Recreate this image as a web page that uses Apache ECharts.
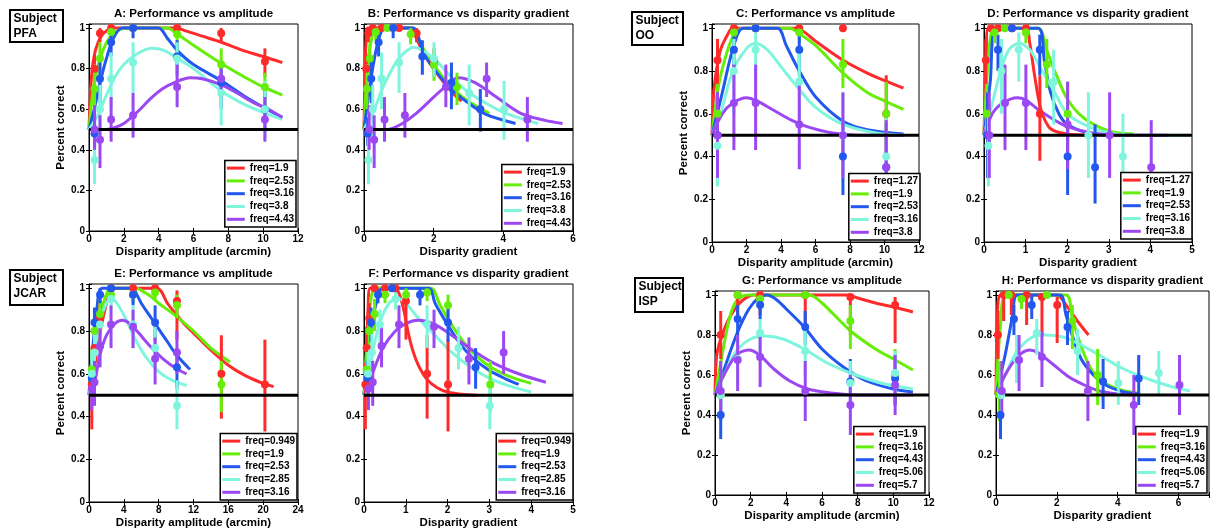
<!DOCTYPE html>
<html>
<head>
<meta charset="utf-8">
<script src="https://cdn.jsdelivr.net/npm/echarts@6/dist/echarts.min.js"></script>
<style>
html,body{margin:0;padding:0;background:#fff;}
#chart{width:1217px;height:531px;}
</style>
</head>
<body>
<div id="chart"></div>
<script>
// ---------------- DATA ----------------
const CHANCE = 0.5;

// Subject PFA (panels A, B)
const PFA_freq = ['freq=1.9','freq=2.53','freq=3.16','freq=3.8','freq=4.43'];
const PFA_amp = [0.32,0.63,1.27,2.53,5.06,7.59,10.1];
const PFA_grad = [
  [0.064,0.125,0.253,0.503,1.007,1.51,2.01],
  [0.085,0.167,0.336,0.670,1.34,2.01,2.67],
  [0.106,0.209,0.420,0.837,1.675,2.51,3.34],
  [0.127,0.251,0.505,1.007,2.01,3.02,4.02],
  [0.148,0.292,0.589,1.174,2.35,3.52,4.69]];
const PFA_pc = [
  [0.80,0.975,1,1,1,0.975,0.835],
  [0.70,0.85,0.98,1,0.97,0.82,0.71],
  [0.48,0.75,0.93,1,0.86,0.73,0.60],
  [0.35,0.60,0.75,0.83,0.85,0.68,0.60],
  [0.50,0.45,0.55,0.57,0.71,0.75,0.55]];
const PFA_lo = [
  [0.72,0.93,1,1,1,0.93,0.76],
  [0.60,0.75,0.94,1,0.92,0.74,0.62],
  [0.42,0.63,0.86,0.95,0.77,0.60,0.49],
  [0.23,0.46,0.60,0.68,0.76,0.52,0.45],
  [0.40,0.31,0.44,0.46,0.61,0.66,0.44]];
const PFA_hi = [
  [0.87,1,1,1,1,1,0.90],
  [0.82,0.93,1,1,1,0.90,0.78],
  [0.56,0.85,0.98,1,0.94,0.83,0.70],
  [0.50,0.72,0.88,0.93,0.93,0.82,0.74],
  [0.62,0.57,0.66,0.68,0.82,0.83,0.66]];
const A_fit = [
  [[0,0.5],[0.05,0.62],[0.1,0.71],[0.2,0.81],[0.4,0.9],[0.7,0.96],[1.0,0.985],[1.4,1],[3,1],[5.0,1],[5.6,0.985],[6.5,0.96],[7.6,0.93],[9,0.885],[10,0.86],[11.1,0.83]],
  [[0,0.5],[0.2,0.67],[0.4,0.77],[0.8,0.89],[1.2,0.955],[1.7,0.99],[2.2,1],[3.5,1],[4.5,1],[5,0.975],[6,0.915],[7.6,0.825],[9,0.755],[10,0.71],[11.1,0.67]],
  [[0,0.5],[0.3,0.6],[0.63,0.73],[1,0.85],[1.4,0.95],[1.9,1],[3,1],[4,1],[4.5,0.95],[5.06,0.89],[6,0.82],[7.6,0.74],[9,0.66],[10,0.61],[11.1,0.56]],
  [[0,0.5],[0.5,0.57],[1,0.67],[1.5,0.76],[2,0.82],[2.7,0.87],[3.6,0.9],[4.3,0.89],[5,0.855],[6,0.8],[7.6,0.69],[9,0.62],[10,0.585],[11.1,0.55]],
  [[0,0.5],[1,0.5],[1.5,0.51],[2,0.53],[2.5,0.565],[3,0.605],[3.5,0.65],[4.2,0.7],[5,0.735],[5.8,0.755],[6.5,0.75],[7.6,0.72],[8.5,0.68],[9.5,0.63],[10.3,0.6],[11.1,0.56]]];
const B_fit = [
  [[0,0.5],[0.03,0.8],[0.07,0.97],[0.1,1],[1.35,1],[1.5,0.95],[1.7,0.88],[2,0.8],[2.3,0.73],[2.6,0.67],[2.8,0.64]],
  [[0,0.5],[0.1,0.8],[0.2,0.93],[0.35,1],[1.4,1],[1.6,0.93],[2,0.82],[2.5,0.71],[3,0.64],[3.6,0.58]],
  [[0,0.5],[0.2,0.75],[0.4,0.93],[0.6,1],[1.4,1],[1.7,0.88],[2,0.8],[2.5,0.7],[3,0.63],[3.5,0.575],[4.35,0.53]],
  [[0,0.5],[0.3,0.6],[0.55,0.71],[1,0.85],[1.45,0.905],[2,0.85],[2.5,0.76],[2.95,0.69],[3.5,0.63],[4,0.585],[5,0.53]],
  [[0,0.5],[0.6,0.5],[1,0.52],[1.5,0.58],[2,0.66],[2.4,0.72],[2.7,0.755],[3.2,0.73],[3.8,0.66],[4.5,0.58],[5.2,0.545],[5.7,0.53]]];

// Subject OO (panels C, D)
const OO_freq = ['freq=1.27','freq=1.9','freq=2.53','freq=3.16','freq=3.8'];
const OO_amp = [0.32,1.27,2.53,5.06,7.59,10.1];
const OO_grad = [
  [0.043,0.169,0.336,0.673,1.01,1.343],
  [0.064,0.253,0.503,1.007,1.51,2.01],
  [0.085,0.336,0.670,1.34,2.01,2.67],
  [0.106,0.420,0.837,1.675,2.51,3.34],
  [0.127,0.505,1.007,2.01,3.02,4.02]];
const OO_pc = [
  [0.85,1,1,1,1,0.6],
  [0.6,0.98,1,0.98,0.83,0.6],
  [0.5,0.9,1,0.9,0.4,0.35],
  [0.45,0.8,0.9,0.75,0.5,0.4],
  [0.5,0.65,0.65,0.55,0.5,0.35]];
const OO_lo = [
  [0.72,1,1,1,1,0.38],
  [0.5,0.93,1,0.93,0.72,0.45],
  [0.3,0.8,1,0.78,0.22,0.18],
  [0.26,0.6,0.75,0.55,0.3,0.25],
  [0.3,0.43,0.43,0.34,0.3,0.2]];
const OO_hi = [
  [0.95,1,1,1,1,0.78],
  [0.74,1,1,1,0.95,0.75],
  [0.7,0.97,1,0.97,0.57,0.55],
  [0.62,0.95,0.98,0.9,0.7,0.6],
  [0.7,0.83,0.83,0.75,0.7,0.57]];
const C_fit = [
  [[0,0.5],[0.1,0.7],[0.25,0.8],[0.5,0.9],[0.9,0.97],[1.2,1],[3,1],[4.8,1],[5.3,0.985],[6,0.94],[7.6,0.85],[9,0.79],[10,0.755],[11.1,0.72]],
  [[0,0.5],[0.4,0.74],[0.8,0.87],[1.2,0.96],[1.6,0.995],[2,1],[4.5,1],[5.06,0.975],[6,0.92],[7.6,0.79],[9,0.7],[10,0.66],[11.1,0.62]],
  [[0,0.5],[0.6,0.7],[1.2,0.9],[1.8,1],[3.8,1],[4.3,0.92],[5.06,0.8],[6,0.68],[7.6,0.565],[9,0.525],[11.1,0.505]],
  [[0,0.5],[0.5,0.6],[1.2,0.8],[2,0.905],[2.5,0.93],[3.2,0.9],[4,0.82],[5,0.72],[6,0.63],[7.6,0.55],[9.5,0.51],[11.1,0.5]],
  [[0,0.5],[0.6,0.6],[1.2,0.65],[2,0.675],[2.6,0.66],[3.5,0.62],[4.6,0.57],[5.5,0.54],[7,0.51],[8.5,0.5],[11.1,0.5]]];
const D_fit = [
  [[0,0.5],[0.05,0.85],[0.1,1],[1.0,1],[1.1,0.93],[1.2,0.8],[1.3,0.68],[1.4,0.6],[1.6,0.53],[2.0,0.505],[2.6,0.5]],
  [[0,0.5],[0.08,0.8],[0.15,0.95],[0.25,1],[1.3,1],[1.5,0.9],[1.7,0.8],[2.0,0.67],[2.4,0.58],[3,0.52],[3.6,0.505]],
  [[0,0.5],[0.15,0.75],[0.3,1],[1.3,1],[1.45,0.85],[1.6,0.7],[1.8,0.6],[2.0,0.55],[2.5,0.51],[2.9,0.5]],
  [[0,0.5],[0.2,0.65],[0.4,0.8],[0.6,0.9],[0.85,0.93],[1.1,0.9],[1.4,0.8],[1.7,0.7],[2,0.6],[2.4,0.55],[2.8,0.52],[3.5,0.5],[5,0.5]],
  [[0,0.5],[0.2,0.6],[0.45,0.65],[0.8,0.675],[1.0,0.665],[1.3,0.62],[1.7,0.57],[2.0,0.54],[2.6,0.51],[3.2,0.5],[4.4,0.5]]];

// Subject JCAR (panels E, F)
const JCAR_freq = ['freq=0.949','freq=1.9','freq=2.53','freq=2.85','freq=3.16'];
const JCAR_amp = [
  [0.32,0.63,1.27,2.53,5.06,7.59,10.1,15.2,20.2],
  [0.32,0.63,1.27,2.53,5.06,7.59,10.1,15.2],
  [0.32,0.63,1.27,2.53,5.06,7.59,10.1],
  [0.32,0.63,1.27,2.53,5.06,7.59,10.1],
  [0.32,0.63,1.27,2.53,5.06,7.59,10.1]];
const JCAR_grad = [
  [0.032,0.063,0.126,0.251,0.503,0.754,1.004,1.51,2.01],
  [0.064,0.125,0.253,0.503,1.007,1.51,2.01,3.02],
  [0.085,0.167,0.336,0.670,1.34,2.01,2.67],
  [0.095,0.188,0.379,0.755,1.51,2.26,3.01],
  [0.106,0.209,0.420,0.837,1.675,2.51,3.34]];
const JCAR_pc = [
  [0.55,0.72,0.86,1,1,1,0.94,0.6,0.55],
  [0.62,0.8,0.88,0.97,0.97,0.98,0.92,0.55],
  [0.58,0.84,0.97,1,0.97,0.84,0.63],
  [0.6,0.7,0.83,0.95,0.83,0.72,0.45],
  [0.53,0.56,0.73,0.83,0.82,0.67,0.70]];
const JCAR_lo = [
  [0.34,0.6,0.78,1,1,1,0.76,0.39,0.33],
  [0.5,0.72,0.8,0.93,0.93,0.94,0.86,0.42],
  [0.5,0.75,0.93,1,0.92,0.75,0.53],
  [0.5,0.6,0.72,0.9,0.72,0.62,0.34],
  [0.43,0.45,0.63,0.72,0.72,0.55,0.6]];
const JCAR_hi = [
  [0.65,0.82,0.93,1,1,1,0.99,0.78,0.76],
  [0.72,0.88,0.95,1,1,1,0.97,0.66],
  [0.66,0.91,1,1,1,0.92,0.72],
  [0.7,0.8,0.9,0.99,0.92,0.82,0.57],
  [0.62,0.66,0.82,0.92,0.9,0.77,0.8]];
const E_fit = [
  [[0,0.5],[0.5,0.6],[1.3,0.8],[2.3,0.97],[3,1],[7.8,1],[8.3,0.985],[9,0.93],[10,0.88],[11,0.83],[12,0.79],[14,0.71],[16,0.64],[18,0.59],[20,0.555],[21.2,0.54]],
  [[0,0.5],[0.4,0.7],[0.8,0.8],[1.8,0.95],[2.5,1],[5.5,1],[6,0.99],[7,0.965],[8,0.93],[9,0.9],[10,0.87],[12,0.8],[14,0.72],[16.2,0.655]],
  [[0,0.5],[0.5,0.75],[0.9,0.9],[1.5,1],[5,1],[5.5,0.97],[6,0.93],[7,0.87],[8,0.81],[9,0.75],[10,0.69],[11.6,0.62]],
  [[0,0.5],[0.6,0.7],[1.3,0.85],[2,0.93],[2.6,0.955],[3.2,0.93],[4.2,0.86],[5.2,0.77],[6.5,0.68],[8,0.61],[9.5,0.57],[11.2,0.545]],
  [[0,0.5],[0.6,0.55],[1.2,0.68],[2,0.78],[3,0.835],[3.8,0.85],[4.5,0.84],[5.5,0.8],[7,0.73],[8.5,0.67],[10,0.625],[11.2,0.6]]];
const F_fit = [
  [[0,0.5],[0.05,0.62],[0.1,0.92],[0.15,1],[0.75,1],[0.85,0.97],[0.95,0.9],[1.05,0.8],[1.15,0.72],[1.3,0.64],[1.5,0.575],[1.75,0.535],[2,0.515],[2.4,0.503],[2.7,0.5]],
  [[0,0.5],[0.12,0.85],[0.3,1],[1.6,1],[1.8,0.93],[2,0.86],[2.3,0.77],[2.6,0.7],[3,0.635],[3.5,0.585],[4,0.555]],
  [[0,0.5],[0.15,0.8],[0.35,0.97],[0.45,1],[1.55,1],[1.7,0.93],[2,0.83],[2.3,0.74],[2.6,0.675],[3,0.615],[3.4,0.575],[3.7,0.55]],
  [[0,0.5],[0.2,0.7],[0.4,0.85],[0.6,0.93],[0.8,0.955],[1,0.93],[1.3,0.86],[1.7,0.78],[2.1,0.7],[2.6,0.625],[3.1,0.57],[3.6,0.535],[4,0.515]],
  [[0,0.5],[0.2,0.6],[0.45,0.72],[0.75,0.8],[1,0.835],[1.3,0.85],[1.7,0.83],[2.1,0.78],[2.6,0.71],[3.1,0.65],[3.7,0.6],[4.35,0.56]]];

// Subject ISP (panels G, H)
const ISP_freq = ['freq=1.9','freq=3.16','freq=4.43','freq=5.06','freq=5.7'];
const ISP_amp = [0.32,1.27,2.53,5.06,7.59,10.1];
const ISP_grad = [
  [0.064,0.253,0.503,1.007,1.51,2.01],
  [0.106,0.420,0.837,1.675,2.51,3.34],
  [0.148,0.589,1.174,2.35,3.52,4.69],
  [0.170,0.673,1.34,2.68,4.02,5.35],
  [0.191,0.758,1.51,3.02,4.53,6.03]];
const ISP_pc = [
  [0.8,1,1,1,0.99,0.95],
  [0.5,1,0.98,1,0.87,0.6],
  [0.4,0.88,0.95,0.84,0.567,0.583],
  [0.5,0.68,0.81,0.72,0.56,0.61],
  [0.52,0.675,0.69,0.52,0.45,0.55]];
const ISP_lo = [
  [0.68,0.87,0.9,0.85,0.8,0.76],
  [0.37,1,0.93,1,0.73,0.45],
  [0.28,0.8,0.88,0.75,0.43,0.45],
  [0.38,0.56,0.7,0.6,0.45,0.5],
  [0.38,0.52,0.54,0.37,0.3,0.4]];
const ISP_hi = [
  [0.92,1,1,1,1,0.99],
  [0.67,1,1,1,0.95,0.73],
  [0.52,0.95,1,0.92,0.68,0.7],
  [0.62,0.8,0.88,0.83,0.67,0.72],
  [0.67,0.8,0.82,0.67,0.6,0.7]];
const G_fit = [
  [[0,0.5],[0.1,0.7],[0.4,0.8],[0.9,0.9],[1.5,0.97],[2.2,1],[5,1],[7.5,1],[8,0.985],[9,0.96],[10,0.94],[11.1,0.915]],
  [[0,0.5],[0.4,0.7],[0.8,0.88],[1.2,0.97],[1.8,1],[5.3,1],[6,0.96],[7.6,0.82],[9,0.73],[10,0.68],[11.1,0.625]],
  [[0,0.5],[0.4,0.6],[1.2,0.8],[1.9,0.93],[2.5,0.99],[2.9,1],[3.4,0.98],[4,0.93],[5,0.84],[6,0.73],[7.2,0.64],[8.5,0.57],[10,0.53],[11.1,0.515]],
  [[0,0.5],[0.5,0.6],[1.2,0.72],[2,0.78],[2.8,0.795],[3.8,0.78],[5,0.73],[6.3,0.66],[7.6,0.61],[9.3,0.56],[11.1,0.53]],
  [[0,0.5],[0.5,0.6],[1.2,0.7],[1.9,0.725],[2.5,0.7],[3.3,0.63],[4.2,0.57],[5.2,0.53],[6.5,0.51],[8,0.5],[11.1,0.5]]];
const H_fit = [
  [[0,0.5],[0.05,0.9],[0.15,1],[2,1],[2.3,0.95],[2.65,0.875],[3.04,0.8]],
  [[0,0.5],[0.15,0.85],[0.35,1],[2.3,1],[2.5,0.89],[2.76,0.76],[3.09,0.64],[3.42,0.575],[4,0.53],[4.63,0.51]],
  [[0,0.5],[0.3,0.7],[0.55,0.9],[0.7,1],[2.1,1],[2.3,0.9],[2.5,0.8],[2.8,0.68],[3.2,0.6],[3.6,0.55],[4.2,0.515],[4.7,0.505]],
  [[0,0.5],[0.3,0.6],[0.7,0.72],[1.2,0.79],[1.6,0.8],[2.2,0.79],[2.8,0.75],[3.5,0.69],[4.2,0.63],[5,0.58],[5.7,0.545],[6.38,0.52]],
  [[0,0.5],[0.3,0.6],[0.7,0.69],[1.1,0.725],[1.4,0.71],[1.9,0.65],[2.4,0.59],[2.9,0.55],[3.4,0.52],[4,0.505],[4.5,0.5]]];

const TITLES = ['A: Performance vs amplitude','B: Performance vs disparity gradient',
  'C: Performance vs amplitude','D: Performance vs disparity gradient',
  'E: Performance vs amplitude','F: Performance vs disparity gradient',
  'G: Performance vs amplitude','H: Performance vs disparity gradient'];
const XNAME_AMP = 'Disparity amplitude (arcmin)';
const XNAME_GRAD = 'Disparity gradient';
const YNAME = 'Percent correct';
const SUBJECTS = ['PFA','OO','JCAR','ISP'];

// ---------------- LAYOUT / STYLE ----------------
const COLORS = ['#ff2b2b','#66ee0a','#2358ee','#80f5de','#9b48f2'];
const FONT = '"Liberation Sans", Arial, sans-serif';
const rep = a => [a,a,a,a,a];

const panels = [
  {k:'A', rect:[89,24,209,207], tTop:7.5, xmax:12, step:2, xname:XNAME_AMP, yname:true, leg:[921,304], freq:PFA_freq, x:rep(PFA_amp), pc:PFA_pc, lo:PFA_lo, hi:PFA_hi, fit:A_fit},
  {k:'B', rect:[364,24,209,207], tTop:7.5, xmax:6, step:2, xname:XNAME_GRAD, yname:false, leg:[644,300], freq:PFA_freq, x:PFA_grad, pc:PFA_pc, lo:PFA_lo, hi:PFA_hi, fit:B_fit},
  {k:'C', rect:[712,24,207,218], tTop:7.5, xmax:12, step:2, xname:XNAME_AMP, yname:true, leg:[297,291], freq:OO_freq, x:rep(OO_amp), pc:OO_pc, lo:OO_lo, hi:OO_hi, fit:C_fit},
  {k:'D', rect:[984,24,208,218], tTop:7.5, xmax:5, step:1, xname:XNAME_GRAD, yname:false, leg:[25,292], freq:OO_freq, x:OO_grad, pc:OO_pc, lo:OO_lo, hi:OO_hi, fit:D_fit},
  {k:'E', rect:[89,284,209,218], tTop:267.5, xmax:24, step:4, xname:XNAME_AMP, yname:true, leg:[920,31], freq:JCAR_freq, x:JCAR_amp, pc:JCAR_pc, lo:JCAR_lo, hi:JCAR_hi, fit:E_fit},
  {k:'F', rect:[364,284,209,218], tTop:267.5, xmax:5, step:1, xname:XNAME_GRAD, yname:false, leg:[644,31], freq:JCAR_freq, x:JCAR_grad, pc:JCAR_pc, lo:JCAR_lo, hi:JCAR_hi, fit:F_fit},
  {k:'G', rect:[715,291,214,204], tTop:274.5, xmax:12, step:2, xname:XNAME_AMP, yname:true, leg:[292,38], freq:ISP_freq, x:rep(ISP_amp), pc:ISP_pc, lo:ISP_lo, hi:ISP_hi, fit:G_fit},
  {k:'H', rect:[996,291,213,204], tTop:274.5, xmax:7, step:2, xname:XNAME_GRAD, yname:false, leg:[10,38], freq:ISP_freq, x:ISP_grad, pc:ISP_pc, lo:ISP_lo, hi:ISP_hi, fit:H_fit}
];
const subjBoxes = [
  {name:SUBJECTS[0], x:10, y:10, w:53, h:32},
  {name:SUBJECTS[1], x:632, y:12, w:51, h:33},
  {name:SUBJECTS[2], x:10, y:270, w:53, h:35},
  {name:SUBJECTS[3], x:635, y:278, w:48, h:34}
];

const onStep = (v, s) => Math.abs(v / s - Math.round(v / s)) < 1e-6;
const fmt = s => v => onStep(v, s) ? String(+v.toFixed(2)) : '';

const grid = [], xAxis = [], yAxis = [], series = [], title = [], legend = [];

panels.forEach((p, gi) => {
  const [l, t, w, h] = p.rect;
  grid.push({left:l, top:t, width:w, height:h, show:true, borderColor:'#000', borderWidth:1, backgroundColor:'transparent', containLabel:false});
  title.push({text:TITLES[gi], left:l + w / 2, top:p.tTop, textAlign:'center', padding:0,
    textStyle:{fontSize:11.5, fontWeight:'bold', color:'#000', fontFamily:FONT}});
  xAxis.push({type:'value', gridIndex:gi, min:0, max:p.xmax, interval:p.step,
    name:p.xname, nameLocation:'middle', nameGap:15,
    nameTextStyle:{fontSize:11.5, fontWeight:'bold', color:'#000', fontFamily:FONT},
    axisLine:{lineStyle:{color:'#000', width:1}},
    axisTick:{inside:true, length:3, lineStyle:{color:'#000'}},
    axisLabel:{fontSize:10, fontWeight:'bold', color:'#000', margin:3, fontFamily:FONT, formatter:fmt(p.step)},
    splitLine:{show:false}});
  yAxis.push({type:'value', gridIndex:gi, min:0, max:1.02, interval:0.2,
    name:p.yname ? YNAME : '', nameLocation:'middle', nameGap:20,
    nameTextStyle:{fontSize:11.5, fontWeight:'bold', color:'#000', fontFamily:FONT},
    axisLine:{lineStyle:{color:'#000', width:1}},
    axisTick:{inside:true, length:3, lineStyle:{color:'#000'}},
    axisLabel:{fontSize:10, fontWeight:'bold', color:'#000', margin:4, fontFamily:FONT, formatter:fmt(0.2)},
    splitLine:{show:false}});
  const names = [];
  p.freq.forEach((f, si) => {
    const color = COLORS[si];
    const xs = p.x[si];
    const nm = f + '|' + p.k;
    names.push(nm);
    series.push({type:'line', name:nm, xAxisIndex:gi, yAxisIndex:gi, data:p.fit[si],
      smooth:0.3, symbol:'none', showSymbol:false, silent:true,
      lineStyle:{width:3, color:color}, itemStyle:{color:color}, z:2});
    series.push({type:'custom', name:'err ' + nm, xAxisIndex:gi, yAxisIndex:gi, silent:true, clip:true,
      data:xs.map((x, i) => [x, p.lo[si][i], p.hi[si][i]]),
      encode:{x:0, y:[1, 2]},
      renderItem:(params, api) => {
        const a = api.coord([api.value(0), api.value(1)]);
        const b = api.coord([api.value(0), api.value(2)]);
        return {type:'line', shape:{x1:a[0], y1:a[1], x2:b[0], y2:b[1]}, style:{stroke:color, lineWidth:3}};
      }, z:3});
    series.push({type:'scatter', name:'pts ' + nm, xAxisIndex:gi, yAxisIndex:gi, silent:true,
      data:xs.map((x, i) => [x, p.pc[si][i]]), symbol:'circle', symbolSize:8,
      itemStyle:{color:color, opacity:1}, z:5});
  });
  series.push({type:'line', name:'chance ' + p.k, xAxisIndex:gi, yAxisIndex:gi, silent:true,
    data:[[0, CHANCE], [p.xmax, CHANCE]], symbol:'none', lineStyle:{color:'#000', width:3}, z:4});
  legend.push({right:p.leg[0], bottom:p.leg[1], orient:'vertical', data:names, icon:'rect',
    itemWidth:18, itemHeight:3, itemGap:1.4, padding:[2, 2, 2, 2], selectedMode:false,
    backgroundColor:'#fff', borderColor:'#000', borderWidth:1.5,
    formatter:n => n.split('|')[0],
    textStyle:{fontSize:10, fontWeight:'bold', color:'#000', lineHeight:11.4, fontFamily:FONT}, z:10});
});

// mirrored ticks on top and right (box style)
panels.forEach((p, gi) => {
  xAxis.push({type:'value', gridIndex:gi, position:'top', min:0, max:p.xmax, interval:p.step,
    axisLine:{show:false}, axisLabel:{show:false}, splitLine:{show:false},
    axisTick:{inside:true, length:3, lineStyle:{color:'#000'}}});
  yAxis.push({type:'value', gridIndex:gi, position:'right', min:0, max:1.02, interval:0.2,
    axisLine:{show:false}, axisLabel:{show:false}, splitLine:{show:false},
    axisTick:{inside:true, length:3, lineStyle:{color:'#000'}}});
});

const graphic = [];
subjBoxes.forEach(b => {
  graphic.push({type:'rect', shape:{x:b.x, y:b.y, width:b.w, height:b.h},
    style:{fill:'#fff', stroke:'#000', lineWidth:2}, z:10});
  graphic.push({type:'text', x:b.x + 3.5, y:b.y + 1.5,
    style:{text:'Subject\n' + b.name, font:'bold 12px ' + FONT, fill:'#000', lineHeight:15, verticalAlign:'top', align:'left'}, z:11});
});

const chart = echarts.init(document.getElementById('chart'), null, {renderer:'canvas'});
chart.setOption({
  animation:false,
  backgroundColor:'#fff',
  textStyle:{fontFamily:FONT},
  title, grid, xAxis, yAxis, legend, series, graphic
});
</script>
</body>
</html>
